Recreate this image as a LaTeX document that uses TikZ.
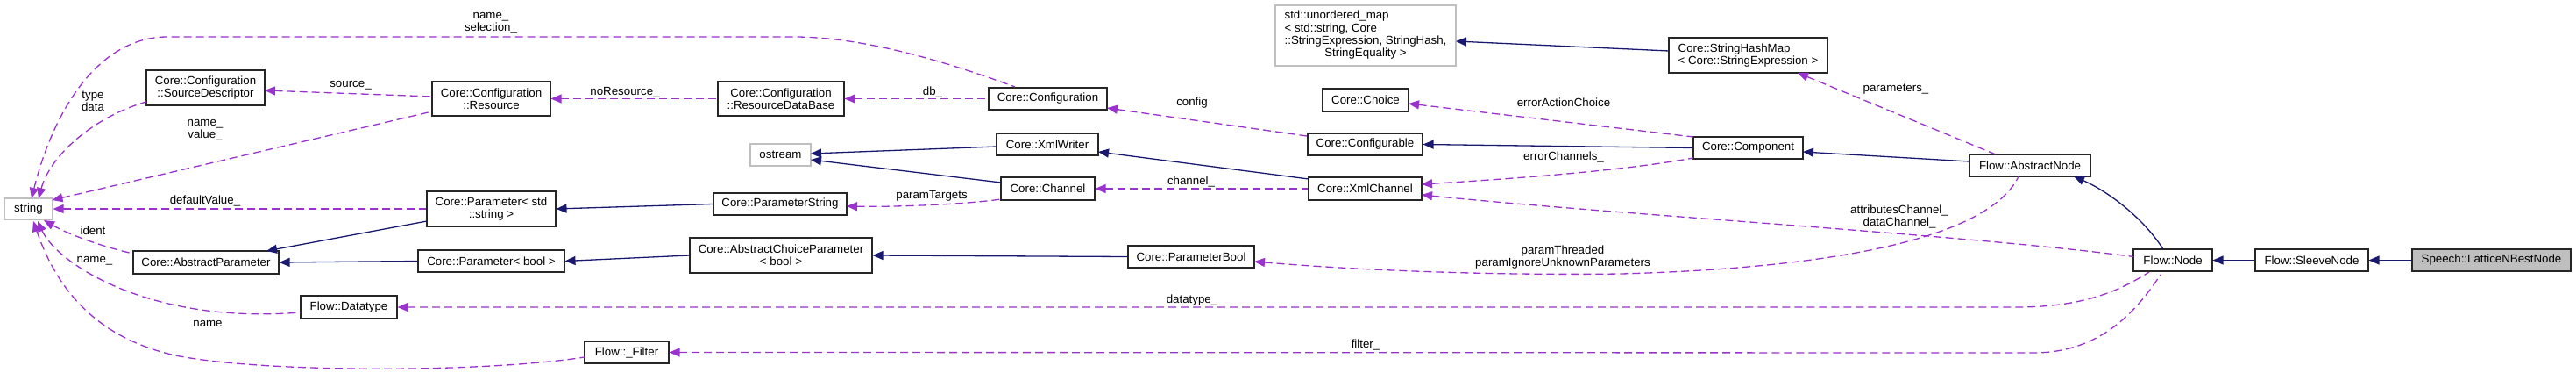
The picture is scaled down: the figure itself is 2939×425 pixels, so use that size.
\documentclass[tikz,border=0pt]{standalone}
\usepackage{fontspec}
\setmainfont{Liberation Sans}
\usetikzlibrary{arrows.meta}
\definecolor{inhblue}{HTML}{191970}
\definecolor{usepurple}{HTML}{9A32CD}
\begin{document}
\begin{tikzpicture}[x=1pt,y=-1pt,
  font=\fontsize{13.3}{14.3}\selectfont,
  cls/.style={draw=black!85, line width=1.1pt, fill=white, inner sep=0pt, align=center},
  ext/.style={cls, draw=black!25},
  cur/.style={cls, fill=black!25},
  inh/.style={draw=inhblue, line width=1.3pt, arrows={Triangle[length=12pt,width=10pt]-}},
  use/.style={draw=usepurple, line width=1.3pt, dash pattern=on 9pt off 5pt, arrows={Triangle[length=12pt,width=10pt]-}},
  lab/.style={align=center, inner sep=0pt}]
\useasboundingbox[fill=white] (0,0) rectangle (2939,425);

% nodes
\node[ext, minimum width=55pt, minimum height=24pt] (string) at (32.5,238) {string};
\node[cls, minimum width=135pt, minimum height=40pt] (sd) at (234.5,100) {Core::Configuration\\::SourceDescriptor};
\node[cls, minimum width=135pt, minimum height=39pt] (res) at (560.5,112.5) {Core::Configuration\\::Resource};
\node[cls, minimum width=144pt, minimum height=39pt] (rdb) at (891,112.5) {Core::Configuration\\::ResourceDataBase};
\node[cls, minimum width=135pt, minimum height=25pt] (cfg) at (1195.5,112.5) {Core::Configuration};
\node[cls, minimum width=147pt, minimum height=40pt] (pstr) at (560.5,238) {Core::Parameter< std\\::string >};
\node[cls, minimum width=166pt, minimum height=26pt] (absp) at (235,299) {Core::AbstractParameter};
\node[cls, minimum width=167pt, minimum height=25pt] (pbool) at (560.5,297.5) {Core::Parameter< bool >};
\node[cls, minimum width=110pt, minimum height=26pt] (dtype) at (398,350) {Flow::Datatype};
\node[cls, minimum width=96pt, minimum height=25pt] (filt) at (715,401.5) {Flow::\_Filter};
\node[ext, minimum width=69pt, minimum height=25pt] (ostr) at (890.5,176.5) {ostream};
\node[cls, minimum width=116pt, minimum height=25pt] (xw) at (1195,164.5) {Core::XmlWriter};
\node[cls, minimum width=107pt, minimum height=26pt] (chan) at (1195.5,215) {Core::Channel};
\node[cls, minimum width=152pt, minimum height=25pt] (pstring) at (890,232.5) {Core::ParameterString};
\node[cls, minimum width=208pt, minimum height=40pt] (acp) at (891,291) {Core::AbstractChoiceParameter\\< bool >};
\node[cls, minimum width=144pt, minimum height=25pt] (pb) at (1359,292.5) {Core::ParameterBool};
\node[ext, minimum width=206pt, minimum height=69pt] (umap) at (1558,40.5) {\begin{tabular}{@{}l@{}}std::unordered\_map\\< std::string, Core\\::StringExpression, StringHash,\\\multicolumn{1}{@{}c@{}}{StringEquality >}\end{tabular}};
\node[cls, minimum width=181pt, minimum height=40pt, align=left] (shm) at (1994.5,63) {Core::StringHashMap\\< Core::StringExpression >};
\node[cls, minimum width=98pt, minimum height=26pt] (choice) at (1558,114) {Core::Choice};
\node[cls, minimum width=131pt, minimum height=25pt] (conf) at (1557.5,164.5) {Core::Configurable};
\node[cls, minimum width=125pt, minimum height=25pt] (comp) at (1994.5,168.5) {Core::Component};
\node[cls, minimum width=129pt, minimum height=26pt] (xch) at (1557.5,215) {Core::XmlChannel};
\node[cls, minimum width=138pt, minimum height=25pt] (an) at (2316,188.5) {Flow::AbstractNode};
\node[cls, minimum width=90pt, minimum height=25pt] (fn) at (2479,296.5) {Flow::Node};
\node[cls, minimum width=129pt, minimum height=25pt] (sn) at (2637.5,296.5) {Flow::SleeveNode};
\node[cur, minimum width=181pt, minimum height=25pt] (lnb) at (2842.5,296.5) {Speech::LatticeNBestNode};

% inheritance
\draw[inh] ([shift={(103,6.5)}]umap.center) -- ([shift={(-90.5,-5)}]shm.center);
\draw[inh] (conf.east) -- (comp.west);
\draw[inh] ([shift={(62.5,4.5)}]comp.center) -- ([shift={(-69,-4.5)}]an.center);
\draw[inh] ([shift={(50,12.5)}]an.center) .. controls (2405,218) and (2445,248) .. ([shift={(-11,-12.5)}]fn.center);
\draw[inh] (fn.east) -- (sn.west);
\draw[inh] (sn.east) -- (lnb.west);
\draw[inh] ([shift={(34.5,-1.5)}]ostr.center) -- ([shift={(-58,2.5)}]xw.center);
\draw[inh] ([shift={(34.5,5.5)}]ostr.center) -- ([shift={(-53.5,-7)}]chan.center);
\draw[inh] ([shift={(58,8.5)}]xw.center) -- ([shift={(-64.5,-11)}]xch.center);
\draw[inh] ([shift={(69,-13)}]absp.center) -- ([shift={(-73.5,14)}]pstr.center);
\draw[inh] (absp.east) -- (pbool.west);
\draw[inh] (pstr.east) -- (pstring.west);
\draw[inh] (pbool.east) -- (acp.west);
\draw[inh] (acp.east) -- (pb.west);

% usage
\draw[use] ([shift={(3.5,-12)}]string.center) .. controls (60,130) and (110,42) .. (191,42) -- (906,42) .. controls (990,42) and (1090,74) .. ([shift={(-37.5,-13.5)}]cfg.center);
\node[lab] (l1) at (560,26) {name\_\\selection\_};
\draw[use] ([shift={(11.5,-12)}]string.center) .. controls (58,175) and (110,132) .. ([shift={(-67.5,16)}]sd.center);
\node[lab] (l2) at (106,115) {type\\data};
\draw[use] ([shift={(27,-10)}]string.center) -- ([shift={(-67.5,14.5)}]res.center);
\node[lab] (l3) at (234,148) {name\_\\value\_};
\draw[use] (string.east) -- (pstr.west);
\node[lab] (l4) at (234,229) {defaultValue\_};
\draw[use] ([shift={(17.5,13)}]string.center) .. controls (80,268) and (120,282) .. ([shift={(-83,-10)}]absp.center);
\node[lab] (l5) at (106,263) {ident};
\draw[use] ([shift={(10.5,14)}]string.center) .. controls (65,300) and (170,370) .. ([shift={(-55,6)}]dtype.center);
\node[lab] (l6) at (108,297) {name\_};
\draw[use] ([shift={(5.5,14)}]string.center) .. controls (65,330) and (110,385) .. (200,405) .. controls (300,425) and (550,425) .. ([shift={(-48,5.5)}]filt.center);
\node[lab] (l7) at (237,369) {name};
\draw[use] ([shift={(67.5,3)}]sd.center) -- ([shift={(-67.5,-2.5)}]res.center);
\node[lab] (l8) at (400,97) {source\_};
\draw[use] (res.east) -- (rdb.west);
\node[lab] (l9) at (713,105) {noResource\_};
\draw[use] (rdb.east) -- (cfg.west);
\node[lab] (l10) at (1064,105) {db\_};
\draw[use] ([shift={(67.5,10.5)}]cfg.center) -- ([shift={(-66.5,-9.5)}]conf.center);
\node[lab] (l11) at (1360,117) {config};
\draw[use] (chan.east) -- (xch.west);
\node[lab] (l12) at (1359,207) {channel\_};
\draw[use] ([shift={(76,2.5)}]pstring.center) .. controls (1020,236) and (1100,233) .. ([shift={(-53.5,12)}]chan.center);
\node[lab] (l13) at (1063,223) {paramTargets};
\draw[use] ([shift={(49,4)}]choice.center) -- ([shift={(-62.5,-12.5)}]comp.center);
\node[lab] (l14) at (1784,117) {errorActionChoice};
\draw[use] ([shift={(64.5,-5)}]xch.center) .. controls (1720,204) and (1850,195) .. ([shift={(-62.5,11.5)}]comp.center);
\node[lab] (l15) at (1784,179) {errorChannels\_};
\draw[use] ([shift={(64.5,7)}]xch.center) .. controls (1850,245) and (2250,268) .. ([shift={(-45,-4)}]fn.center);
\node[lab] (l16) at (2167,247) {attributesChannel\_\\dataChannel\_};
\draw[use] ([shift={(56.5,20)}]shm.center) -- ([shift={(-39,-12.5)}]an.center);
\node[lab] (l17) at (2163,102) {parameters\_};
\draw[use] ([shift={(72,5.5)}]pb.center) .. controls (1550,308) and (1700,314) .. (1850,312) .. controls (2100,305) and (2270,270) .. ([shift={(-13,12.5)}]an.center);
\node[lab] (l18) at (1783,293) {paramThreaded\\paramIgnoreUnknownParameters};
\draw[use] (dtype.east) -- (2300,350) .. controls (2380,350) and (2420,330) .. ([shift={(-27,13.5)}]fn.center);
\node[lab] (l19) at (1360,342) {datatype\_};
\draw[use] (filt.east) -- (2320,402) .. controls (2400,402) and (2440,350) .. ([shift={(-14,16.5)}]fn.center);
\node[lab] (l20) at (1558,393) {filter\_};
\end{tikzpicture}
\end{document}
